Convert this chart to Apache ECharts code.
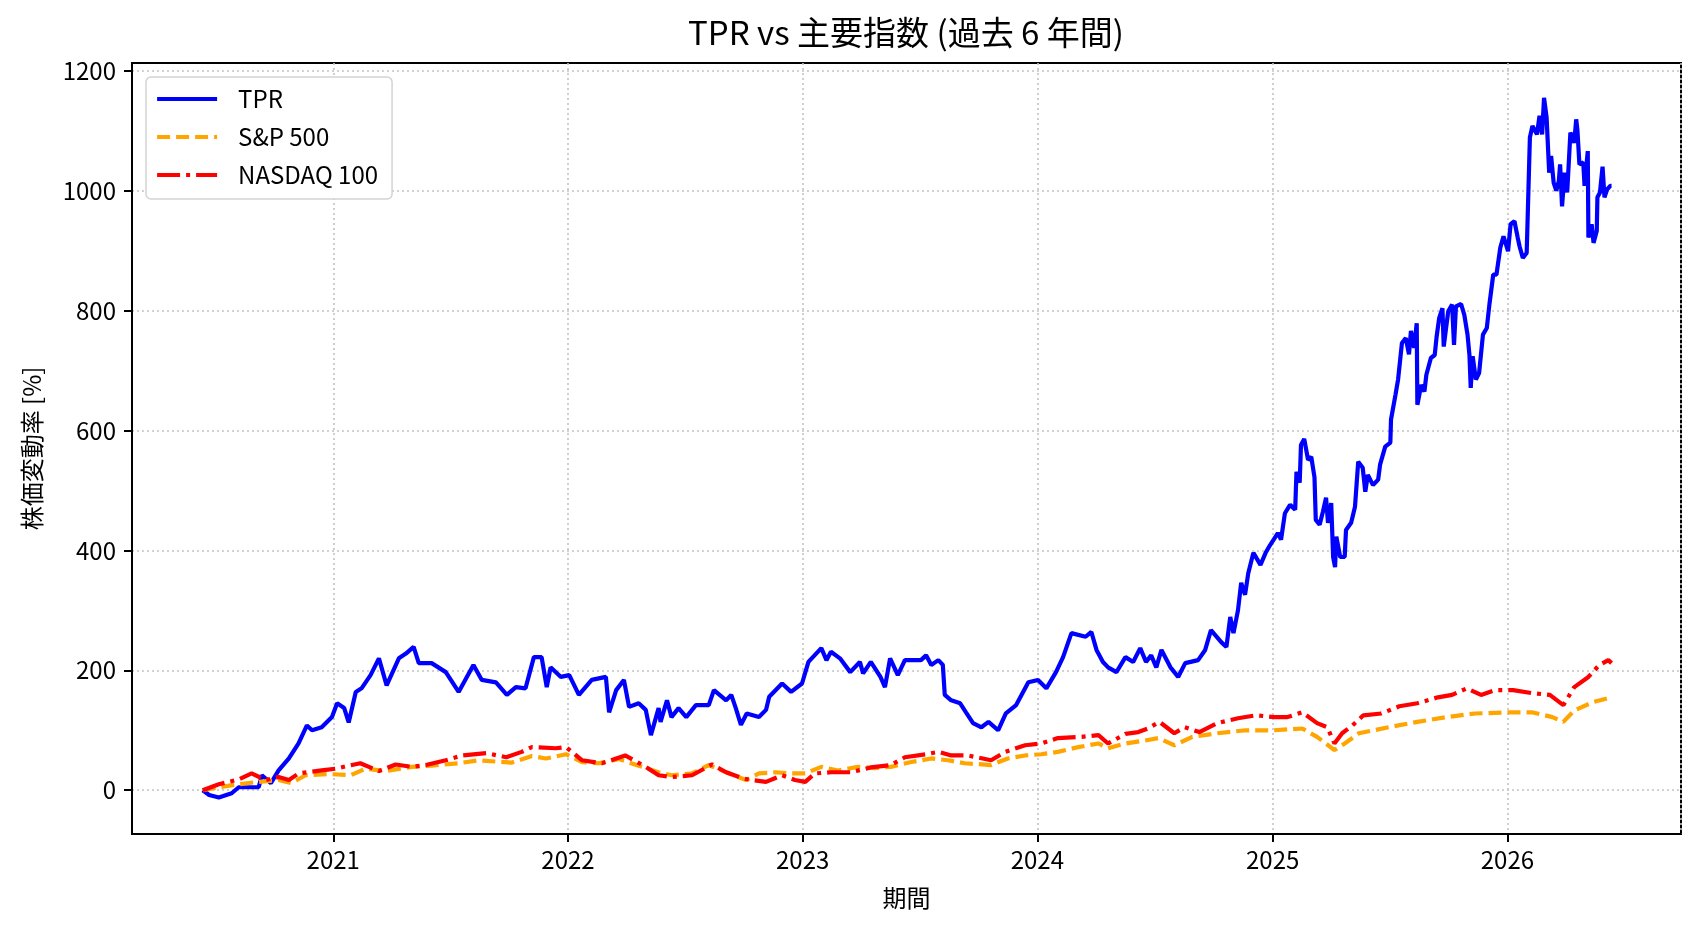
<!DOCTYPE html>
<html lang="ja">
<head>
<meta charset="UTF-8">
<title>TPR vs 主要指数</title>
<style>
  html, body { margin: 0; padding: 0; background: #fff; }
  #main { width: 1702px; height: 932px; }
</style>
</head>
<body>
<div id="main"></div>
<script src="https://cdn.jsdelivr.net/npm/echarts@6/dist/echarts.min.js"></script>
<script>
// TPR 株価変動率 [%]（グラフから読み取った概算値）
var tprDates = [
  '2020-06-12','2020-06-22','2020-07-07','2020-07-27','2020-08-07','2020-09-07','2020-09-12','2020-09-26',
  '2020-10-08','2020-10-24','2020-11-08','2020-11-21','2020-11-29','2020-12-14','2020-12-30',
  '2021-01-07','2021-01-18','2021-01-25','2021-02-05','2021-02-14','2021-02-28','2021-03-13','2021-03-25',
  '2021-04-13','2021-04-24','2021-05-06','2021-05-14','2021-06-03','2021-06-25','2021-07-15','2021-08-07',
  '2021-08-20','2021-09-11','2021-09-28','2021-10-12','2021-10-27','2021-11-09','2021-11-21','2021-11-29',
  '2021-12-05','2021-12-21',
  '2022-01-03','2022-01-18','2022-02-07','2022-03-01','2022-03-06','2022-03-17','2022-03-29','2022-04-06',
  '2022-04-21','2022-05-02','2022-05-10','2022-05-22','2022-05-25','2022-06-04','2022-06-11','2022-06-22',
  '2022-07-04','2022-07-19','2022-08-08','2022-08-16','2022-09-04','2022-09-12','2022-09-19','2022-09-27',
  '2022-10-06','2022-10-25','2022-11-05','2022-11-10','2022-11-30','2022-12-14','2022-12-31',
  '2023-01-10','2023-01-30','2023-02-07','2023-02-14','2023-02-28','2023-03-16','2023-03-31','2023-04-05',
  '2023-04-17','2023-05-02','2023-05-09','2023-05-17','2023-05-29','2023-06-09','2023-07-04','2023-07-12',
  '2023-07-20','2023-07-31','2023-08-07','2023-08-10','2023-08-20','2023-09-03','2023-09-12','2023-09-23',
  '2023-10-06','2023-10-17','2023-11-01','2023-11-13','2023-11-29','2023-12-18',
  '2024-01-02','2024-01-15','2024-01-30','2024-02-10','2024-02-23','2024-03-16','2024-03-25','2024-04-02',
  '2024-04-12','2024-04-20','2024-05-03','2024-05-17','2024-05-29','2024-06-09','2024-06-18','2024-06-26',
  '2024-07-04','2024-07-12','2024-07-26','2024-08-07','2024-08-18','2024-09-07','2024-09-18','2024-09-27',
  '2024-10-13','2024-10-21','2024-10-27','2024-11-01','2024-11-08','2024-11-13','2024-11-19','2024-11-24',
  '2024-12-02','2024-12-13','2024-12-21','2024-12-28',
  '2025-01-09','2025-01-14','2025-01-20','2025-01-28','2025-02-05','2025-02-07','2025-02-12','2025-02-14',
  '2025-02-19','2025-02-25','2025-03-02','2025-03-07','2025-03-09','2025-03-15','2025-03-20','2025-03-25',
  '2025-03-28','2025-04-02','2025-04-05','2025-04-08','2025-04-10','2025-04-16','2025-04-23','2025-04-25',
  '2025-05-03','2025-05-09','2025-05-14','2025-05-21','2025-05-25','2025-05-29','2025-06-06','2025-06-14',
  '2025-06-17','2025-06-25','2025-07-03','2025-07-04','2025-07-11','2025-07-15','2025-07-21','2025-07-27',
  '2025-08-01','2025-08-04','2025-08-09','2025-08-13','2025-08-14','2025-08-20','2025-08-25','2025-08-28',
  '2025-09-04','2025-09-10','2025-09-13','2025-09-17','2025-09-22','2025-09-24','2025-10-01','2025-10-07',
  '2025-10-10','2025-10-13','2025-10-21','2025-10-26','2025-10-31','2025-11-03','2025-11-05','2025-11-08',
  '2025-11-13','2025-11-18','2025-11-24','2025-11-30','2025-12-04','2025-12-10','2025-12-15','2025-12-21',
  '2025-12-26',
  '2026-01-02','2026-01-06','2026-01-12','2026-01-17','2026-01-20','2026-01-25','2026-01-31','2026-02-02',
  '2026-02-05','2026-02-09','2026-02-16','2026-02-20','2026-02-24','2026-02-27','2026-03-03','2026-03-07',
  '2026-03-10','2026-03-14','2026-03-18','2026-03-22','2026-03-24','2026-03-27','2026-03-31','2026-04-04',
  '2026-04-09','2026-04-15','2026-04-18','2026-04-20','2026-04-23','2026-04-29','2026-05-01','2026-05-06',
  '2026-05-07','2026-05-12','2026-05-15','2026-05-20','2026-05-21','2026-05-25','2026-05-29','2026-06-01',
  '2026-06-05','2026-06-10','2026-06-12'
];
var tprValues = [
  0, -8, -12, -5, 5, 5, 25, 12,
  33, 53, 78, 108, 100, 105, 122,
  145, 137, 113, 164, 170, 192, 220, 175,
  220, 228, 239, 212, 212, 197, 164, 209,
  184, 180, 159, 172, 170, 222, 222, 172,
  205, 189,
  192, 159, 184, 189, 130, 167, 184, 139,
  145, 134, 92, 137, 114, 150, 122, 137,
  122, 142, 142, 167, 150, 159, 137, 109,
  128, 122, 134, 156, 178, 164, 178,
  214, 237, 217, 231, 220, 197, 214, 195,
  214, 189, 172, 220, 192, 217, 217, 225,
  209, 217, 209, 159, 150, 145, 130, 112,
  105, 114, 100, 128, 142, 180,
  184, 170, 197, 222, 262, 256, 264, 234,
  214, 205, 197, 222, 214, 237, 214, 225,
  205, 234, 205, 189, 212, 217, 234, 267,
  247, 239, 289, 262, 300, 346, 326, 362,
  396, 376, 396, 409,
  429, 418, 462, 476, 468, 531, 513, 576,
  586, 551, 556, 522, 451, 443, 464, 488,
  446, 479, 389, 372, 423, 389, 389, 434,
  446, 473, 548, 538, 498, 526, 509, 518,
  543, 573, 580, 618, 660, 685, 746, 754,
  727, 766, 738, 779, 643, 676, 665, 693,
  721, 726, 757, 788, 804, 740, 799, 810,
  743, 807, 811, 793, 760, 726, 671, 724,
  685, 696, 760, 771, 810, 860, 860, 905,
  924,
  899, 944, 949, 922, 907, 888, 896, 893,
  1089, 1108, 1094, 1125, 1094, 1155, 1122, 1030,
  1058, 1013, 1000, 1016, 1044, 974, 1030, 997,
  1097, 1080, 1119, 1100, 1044, 1047, 1008, 1066,
  922, 944, 913, 933, 989, 997, 1040, 989,
  1002, 1008, 1008
];

// S&P 500
var spxDates = [
  '2020-06-12','2020-07-07','2020-08-07','2020-09-07','2020-10-08','2020-10-28','2020-11-19','2020-12-25',
  '2021-01-28','2021-02-20','2021-03-23','2021-05-03','2021-06-03','2021-07-15','2021-08-15','2021-10-05',
  '2021-11-06','2021-11-28','2021-12-29','2022-01-23','2022-02-18','2022-03-21','2022-04-21','2022-05-22',
  '2022-06-11','2022-07-13','2022-08-08','2022-09-04','2022-10-05','2022-10-25','2022-11-20','2022-12-15',
  '2023-01-05','2023-01-30','2023-02-25','2023-03-28','2023-04-23','2023-05-18','2023-06-19','2023-07-20',
  '2023-08-15','2023-09-10','2023-10-21','2023-11-16','2023-12-13','2024-01-07','2024-02-02','2024-03-05',
  '2024-04-05','2024-04-20','2024-05-17','2024-06-17','2024-07-07','2024-08-01','2024-08-29','2024-10-07',
  '2024-11-20','2025-01-03','2025-02-16','2025-03-11','2025-04-07','2025-04-23','2025-05-15','2025-06-30',
  '2025-08-14','2025-09-28','2025-11-12','2026-01-04','2026-02-08','2026-03-12','2026-03-29','2026-04-15',
  '2026-05-14','2026-06-05','2026-06-12'
];
var spxValues = [
  0, 5, 10, 14, 17, 12, 25, 27,
  25, 36, 32, 39, 41, 45, 50, 46,
  57, 53, 60, 47, 45, 52, 41, 30,
  25, 28, 42, 30, 17, 28, 30, 28,
  28, 39, 33, 39, 37, 39, 47, 53,
  50, 45, 42, 53, 58, 60, 64, 72,
  78, 70, 78, 83, 87, 75, 89, 95,
  100, 100, 103, 89, 67, 78, 95, 105,
  114, 122, 128, 130, 130, 122, 114, 133,
  147, 153, 147
];

// NASDAQ 100
var ndxDates = [
  '2020-06-12','2020-07-07','2020-08-07','2020-08-27','2020-09-18','2020-10-08','2020-10-24','2020-11-08',
  '2020-12-14','2021-01-05','2021-01-25','2021-02-12','2021-03-13','2021-04-08','2021-05-03','2021-05-25',
  '2021-06-25','2021-07-20','2021-08-27','2021-09-27','2021-10-21','2021-11-06','2021-12-13','2021-12-29',
  '2022-01-23','2022-02-23','2022-03-31','2022-05-02','2022-05-22','2022-06-11','2022-07-13','2022-08-13',
  '2022-09-04','2022-09-29','2022-10-14','2022-11-05','2022-11-30','2022-12-20','2023-01-05','2023-01-20',
  '2023-02-14','2023-03-17','2023-04-17','2023-05-18','2023-06-09','2023-07-11','2023-07-31','2023-08-20',
  '2023-09-15','2023-10-21','2023-11-12','2023-12-13','2024-01-07','2024-02-02','2024-03-10','2024-04-05',
  '2024-04-20','2024-05-17','2024-06-06','2024-06-21','2024-07-09','2024-08-01','2024-08-17','2024-09-09',
  '2024-10-07','2024-11-08','2024-12-06','2025-01-03','2025-01-24','2025-02-16','2025-03-11','2025-03-27',
  '2025-04-07','2025-04-19','2025-05-05','2025-05-22','2025-06-19','2025-07-17','2025-08-14','2025-09-15',
  '2025-10-07','2025-10-30','2025-11-21','2025-12-13','2026-01-10','2026-02-08','2026-03-08','2026-03-29',
  '2026-04-15','2026-05-07','2026-05-24','2026-06-07','2026-06-12'
];
var ndxValues = [
  0, 10, 18, 28, 17, 22, 17, 28,
  33, 36, 41, 45, 32, 43, 39, 42,
  50, 58, 62, 55, 64, 72, 70, 72,
  50, 45, 58, 39, 25, 22, 25, 43,
  30, 20, 17, 14, 25, 17, 14, 28,
  30, 30, 38, 42, 55, 60, 64, 58,
  58, 50, 64, 75, 78, 87, 89, 92,
  78, 94, 97, 103, 114, 95, 105, 97,
  112, 120, 125, 122, 122, 130, 112, 105,
  78, 95, 108, 125, 128, 140, 145, 155,
  159, 170, 159, 167, 167, 162, 159, 142,
  172, 189, 209, 217, 212
];

var yTicks = [0, 200, 400, 600, 800, 1000, 1200];

function pairs(dates, values) {
  return dates.map(function (d, i) { return [d, values[i]]; });
}

var font = 'Noto Sans CJK JP';
var gridDots = { color: '#c4c4c4', width: 1.6, type: [2, 3] };
var lw = 4.2;

var chart = echarts.init(document.getElementById('main'));
chart.setOption({
  animation: false,
  backgroundColor: '#fff',
  textStyle: { fontFamily: font, color: '#000' },
  title: {
    text: 'TPR vs 主要指数 (過去 6 年間)',
    left: 906, top: 16, textAlign: 'center', padding: 0,
    textStyle: { fontFamily: font, fontSize: 33, fontWeight: 'normal', color: '#000' }
  },
  grid: {
    left: 132, right: 21, top: 63, bottom: 98,
    show: true, borderColor: '#000', borderWidth: 2
  },
  legend: {
    orient: 'vertical', left: 146, top: 77,
    padding: [10, 14, 12, 9], itemGap: 14,
    itemWidth: 60, itemHeight: 24,
    backgroundColor: '#fff', borderColor: '#d3d3d3', borderWidth: 1.5, borderRadius: 5,
    itemStyle: { color: 'rgba(0,0,0,0)', borderWidth: 0 },
    lineStyle: { width: lw },
    textStyle: { fontFamily: font, fontSize: 24, lineHeight: 24, color: '#000', padding: [0, 0, 0, 16] },
    data: ['TPR', 'S&P 500', 'NASDAQ 100']
  },
  xAxis: {
    type: 'time',
    min: '2020-02-23', max: '2026-09-28',
    minInterval: 365 * 24 * 3600 * 1000,
    maxInterval: 366 * 24 * 3600 * 1000,
    name: '期間', nameLocation: 'middle', nameGap: 52,
    nameTextStyle: { fontFamily: font, fontSize: 24, color: '#000' },
    axisLine: { onZero: false, lineStyle: { color: '#000', width: 2 } },
    axisTick: { show: true, length: 8, lineStyle: { color: '#000', width: 2 } },
    axisLabel: { formatter: '{yyyy}', margin: 14, fontFamily: font, fontSize: 24, color: '#000' },
    splitLine: { show: true, lineStyle: gridDots }
  },
  yAxis: {
    type: 'value',
    min: -73, max: 1213,
    name: '株価変動率 [%]', nameLocation: 'middle', nameGap: 88,
    nameTextStyle: { fontFamily: font, fontSize: 24, color: '#000' },
    axisLine: { show: true, lineStyle: { color: '#000', width: 2 } },
    axisTick: { show: true, length: 8, customValues: yTicks, lineStyle: { color: '#000', width: 2 } },
    axisLabel: {
      margin: 16, customValues: yTicks, fontFamily: font, fontSize: 24, color: '#000',
      formatter: function (v) { return String(v); }
    },
    splitLine: { show: true, lineStyle: gridDots }
  },
  series: [
    {
      name: 'TPR', type: 'line', symbol: 'none', showSymbol: false,
      lineStyle: { color: '#0000ff', width: lw }, itemStyle: { color: '#0000ff' },
      data: pairs(tprDates, tprValues)
    },
    {
      name: 'S&P 500', type: 'line', symbol: 'none', showSymbol: false,
      lineStyle: { color: '#ffa500', width: lw, type: [13, 6], cap: 'butt' }, itemStyle: { color: '#ffa500' },
      data: pairs(spxDates, spxValues)
    },
    {
      name: 'NASDAQ 100', type: 'line', symbol: 'none', showSymbol: false,
      lineStyle: { color: '#ff0000', width: lw, type: [23, 6, 4, 6], cap: 'butt' }, itemStyle: { color: '#ff0000' },
      data: pairs(ndxDates, ndxValues)
    }
  ]
});
</script>
</body>
</html>
